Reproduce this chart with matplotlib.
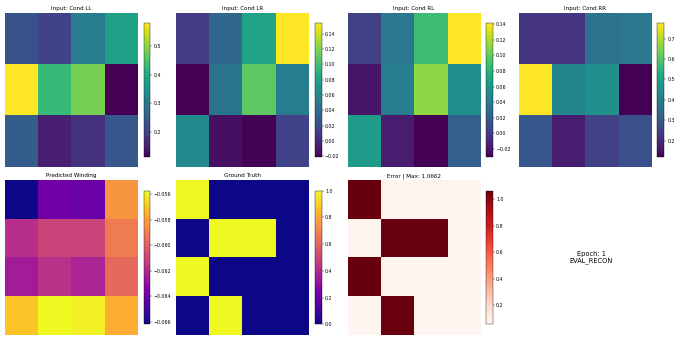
import numpy as np
import matplotlib
matplotlib.use("Agg")
import matplotlib.pyplot as plt

# conductance inputs (3 x 4 grids)
cond_ll = np.array([
    [0.230, 0.205, 0.310, 0.380],
    [0.581, 0.425, 0.485, 0.111],
    [0.250, 0.150, 0.180, 0.240],
])
cond_lr = np.array([
    [0.010, 0.037, 0.080, 0.154],
    [-0.021, 0.046, 0.110, 0.053],
    [0.063, -0.014, -0.020, 0.014],
])
cond_rl = np.array([
    [0.004, 0.038, 0.088, 0.141],
    [-0.020, 0.042, 0.112, 0.055],
    [0.064, -0.016, -0.030, 0.021],
])
cond_rr = np.array([
    [0.220, 0.220, 0.370, 0.380],
    [0.776, 0.420, 0.450, 0.120],
    [0.300, 0.170, 0.250, 0.280],
])

# predicted winding and target (4 x 4 grids)
pred = np.array([
    [-0.0662, -0.0639, -0.0641, -0.0583],
    [-0.0618, -0.0610, -0.0610, -0.0591],
    [-0.0625, -0.0617, -0.0622, -0.0597],
    [-0.0570, -0.0557, -0.0559, -0.0576],
])
truth = np.array([
    [1, 0, 0, 0],
    [0, 1, 1, 0],
    [1, 0, 0, 0],
    [0, 1, 0, 0],
], dtype=float)

epoch = 1
mode = "EVAL_RECON"

error = np.abs(pred - truth)

fig, axes = plt.subplots(2, 4, figsize=(20, 10))

inputs = [("Input: Cond LL", cond_ll), ("Input: Cond LR", cond_lr),
          ("Input: Cond RL", cond_rl), ("Input: Cond RR", cond_rr)]
for ax, (title, grid) in zip(axes[0], inputs):
    im = ax.imshow(grid, cmap="viridis", aspect="auto")
    ax.set_title(title)
    ax.axis("off")
    fig.colorbar(im, ax=ax, fraction=0.046, pad=0.04)

bottom = [("Predicted Winding", pred, "plasma"),
          ("Ground Truth", truth, "plasma"),
          (f"Error | Max: {error.max():.4f}", error, "Reds")]
for ax, (title, grid, cmap) in zip(axes[1][:3], bottom):
    im = ax.imshow(grid, cmap=cmap, aspect="auto")
    ax.set_title(title)
    ax.axis("off")
    fig.colorbar(im, ax=ax, fraction=0.046, pad=0.04)

ax = axes[1][3]
ax.axis("off")
ax.text(0.5, 0.5, f"Epoch: {epoch}\n{mode}", ha="center", va="center",
        fontsize=14, transform=ax.transAxes)

plt.tight_layout()
plt.savefig("out.png", dpi=34)
